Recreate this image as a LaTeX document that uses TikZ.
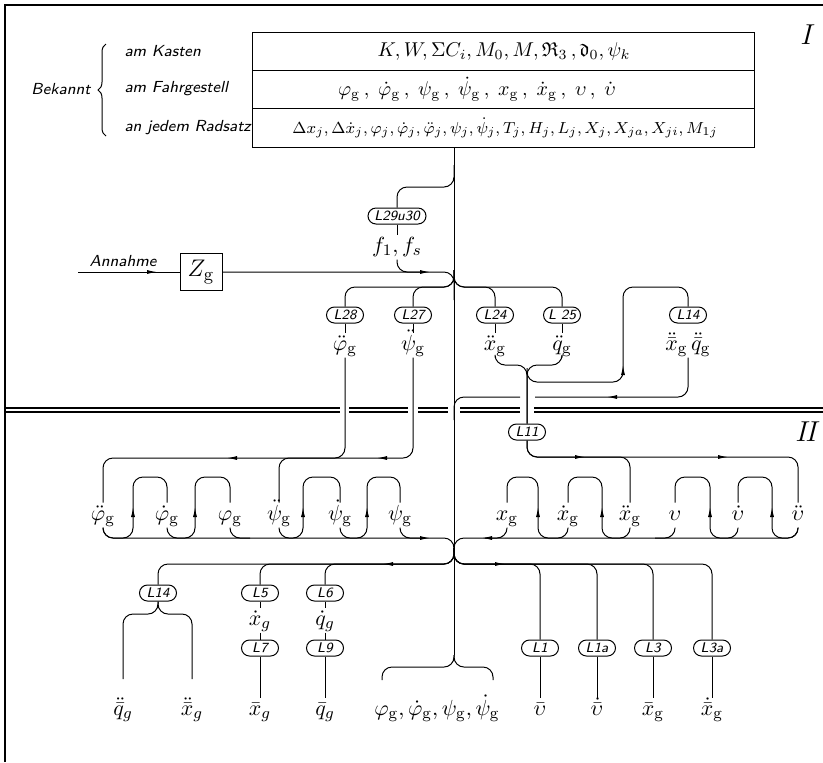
\documentclass[tikz,border=0pt]{standalone}
\usepackage{amsmath,amssymb}
\usetikzlibrary{arrows.meta,decorations.pathreplacing}
\newcommand{\gsub}{\mathrm{g}}

\begin{document}
\begin{tikzpicture}[x=0.5pt, y=-0.5pt, line width=0.5pt,
    lbox/.style={draw, rounded corners=4pt, minimum width=18.5pt, minimum height=8pt, inner sep=1pt,
                 font=\sffamily\itshape\fontsize{7}{8}\selectfont},
    var/.style={inner sep=1pt, text height=7.5pt, text depth=2.5pt, font=\fontsize{11}{13}\selectfont},
    zeile/.style={inner sep=0pt, font=\fontsize{10}{12}\selectfont},
    txt/.style={inner sep=0pt, font=\sffamily\itshape\fontsize{8}{10}\selectfont},
    bus/.style={rounded corners=5pt},
    pfeil/.style={-{Latex[length=5pt,width=2pt]}}]

  \useasboundingbox (0,0) rectangle (823,762);

  % Rahmen und Trennlinie
  \draw[line width=0.8pt] (5,762) -- (5,5) -- (823,5);
  \foreach \a/\b in {5/340, 349/408, 418/448, 460/520, 534/823} {
    \draw[line width=0.6pt] (\a,408) -- (\b,408);
    \draw[line width=0.6pt] (\a,412) -- (\b,412);
  }
  \node[font=\fontsize{14}{16}\selectfont] (roemI) at (808,35) {$I$};
  \node[font=\fontsize{14}{16}\selectfont] (roemII) at (808,432) {$I\!I$};

  % Bekannt
  \node[txt] (bekannt) at (61,89) {Bekannt};
  \draw[decorate, decoration={brace, amplitude=4pt}] (106,136) -- (106,44);
  \node[txt, anchor=west] (kastenT) at (124,51) {am Kasten};
  \node[txt, anchor=west] (fahrT) at (124,89) {am Fahrgestell};
  \node[txt, anchor=west] (radT) at (124,128) {an jedem Radsatz};

  \draw (252,32) rectangle (754,147);
  \draw (252,70) -- (754,70) (252,108) -- (754,108);
  \node[zeile] (kasten) at (504,51) {$K, W, \Sigma C_i, M_0, M, \mathfrak{R}_3\,, \mathfrak{d}_0, \psi_k$};
  \node[zeile] (fahr) at (477,89) {$\varphi_{\gsub}\,,\;\dot\varphi_{\gsub}\,,\;\psi_{\gsub}\,,\;\dot\psi_{\gsub}\,,\;x_{\gsub}\,,\;\dot x_{\gsub}\,,\;\upsilon\,,\;\dot\upsilon$};
  \node[zeile, font=\fontsize{8.5}{10}\selectfont] (rad) at (505,128) {$\Delta x_j, \Delta\dot x_j, \varphi_j, \dot\varphi_j, \ddot\varphi_j, \psi_j, \dot\psi_j, T_j, H_j, L_j, X_j, X_{ja}, X_{ji}, M_{1j}$};

  % Hauptleitung
  \coordinate (c0) at (454,147);
  \draw (c0) -- (454,655);

  % Annahme und L29u30
  \node[lbox, minimum width=29pt] (l29) at (397,216) {L29u30};
  \node[var] (f1) at (397,247) {$f_1, f_s$};
  \draw[bus] (454,165) |- (397,187) -- (l29.north);
  \draw (l29.south) -- (f1.north);
  \draw[bus] (f1.south) |- (425,272);
  \node[draw, minimum width=21pt, minimum height=18.5pt, inner sep=0pt, font=\fontsize{13}{15}\selectfont] (zg) at (201,272) {$Z_{\gsub}$};
  \coordinate (ann) at (78,272);
  \node[txt] (annahme) at (123,261) {Annahme};
  \draw (ann) -- (zg.west);
  \draw[pfeil] (150,272) -- (157,272);
  \draw[bus] (zg.east) -| (454,300);
  \draw[pfeil] (423,272) -- (430,272);

  % Bereich I
  \node[lbox] (l28) at (345,315) {L28};
  \node[lbox] (l27) at (413,315) {L27};
  \node[lbox] (l24) at (495,315) {L24};
  \node[lbox] (l25) at (562,315) {L 25};
  \node[lbox] (l14o) at (688,315) {L14};
  \node[var] (phigdd) at (345,345) {$\ddot\varphi_{\gsub}$};
  \node[var] (psigdd) at (413,345) {$\ddot\psi_{\gsub}$};
  \node[var] (xgdd) at (495,345) {$\ddot x_{\gsub}$};
  \node[var] (qgdd) at (562,345) {$\ddot q_{\gsub}$};
  \node[var] (l14oT) at (688,345) {$\ddot{\bar x}_{\gsub}\,\ddot{\bar q}_{\gsub}$};
  \node[lbox] (l11) at (527,432) {L11};

  \foreach \n/\x in {l28/345, l27/413, l24/495, l25/562}
    \draw[bus] (454,270) |- (\x,287) -- (\n.north);
  \draw (l28.south) -- (phigdd.north);
  \draw (l27.south) -- (psigdd.north);
  \draw (l24.south) -- (xgdd.north);
  \draw (l25.south) -- (qgdd.north);

  \draw[bus] (xgdd.south) |- (527,365) -- (l11.north);
  \draw[bus] (qgdd.south) |- (527,365) -- (l11.north);
  \draw[bus] (527,368) |- (623,382) -- (623,287) -- (688,287) -- (l14o.north);
  \draw[pfeil] (623,372) -- (623,365);
  \draw[bus] (l14oT.south) |- (535,397);
  \draw[bus] (520,397) -| (454,420);
  \draw[pfeil] (614,397) -- (607,397);

  % Bereich II, Integrationsketten
  \node[var] (lphidd) at (103,515) {$\ddot\varphi_{\gsub}$};
  \node[var] (lphid) at (167,515) {$\dot\varphi_{\gsub}$};
  \node[var] (lphi) at (230,515) {$\varphi_{\gsub}$};
  \node[var] (lpsidd) at (279,515) {$\ddot\psi_{\gsub}$};
  \node[var] (lpsid) at (340,515) {$\dot\psi_{\gsub}$};
  \node[var] (lpsi) at (400,515) {$\psi_{\gsub}$};
  \node[var] (lx) at (507,515) {$x_{\gsub}$};
  \node[var] (lxd) at (568,515) {$\dot x_{\gsub}$};
  \node[var] (lxdd) at (630,515) {$\ddot x_{\gsub}$};
  \node[var] (lv) at (675,515) {$\upsilon$};
  \node[var] (lvd) at (738,515) {$\dot\upsilon$};
  \node[var] (lvdd) at (798,515) {$\ddot\upsilon$};

  \draw[bus] (phigdd.south) |- (103,458) -- (lphidd.north);
  \draw[bus] (psigdd.south) |- (279,458) -- (lpsidd.north);
  \draw[pfeil] (234,458) -- (227,458);
  \draw[pfeil] (384,458) -- (377,458);
  \draw[bus] (l11.south) |- (630,457) -- (lxdd.north);
  \draw[bus] (l11.south) |- (798,457) -- (lvdd.north);
  \draw[pfeil] (578,457) -- (585,457);
  \draw[pfeil] (721,457) -- (728,457);

  \foreach \a/\u/\b in {lphidd/133/lphid, lphid/195/lphi, lpsidd/303/lpsid, lpsid/367/lpsi,
                        lxd/538/lx, lxdd/602/lxd, lvd/710/lv, lvdd/772/lvd} {
    \draw[bus] (\a.south) |- (\u,538) -- (\u,477) -| (\b.north);
    \draw[pfeil] (\u,514) -- (\u,507);
  }
  \draw[bus] (lphidd.south) |- (454,538) -- (454,552);
  \draw[bus] (lphi.south) |- (250,538);
  \draw[bus] (lpsi.south) |- (425,538);
  \draw[pfeil] (423,538) -- (430,538);
  \draw[bus] (lvdd.south) |- (454,538) -- (454,552);
  \draw[bus] (lx.south) |- (485,538);
  \draw[bus] (lv.south) |- (655,538);
  \draw[pfeil] (489,538) -- (482,538);

  % Ausgaenge
  \node[lbox] (l14u) at (158,593) {L14};
  \node[lbox] (l5) at (260,593) {L5};
  \node[lbox] (l6) at (325,593) {L6};
  \node[var] (xgd) at (260,620) {$\dot x_g$};
  \node[var] (qgd) at (325,620) {$\dot q_g$};
  \node[lbox] (l7) at (260,648) {L7};
  \node[lbox] (l9) at (325,648) {L9};
  \node[lbox] (l1) at (540,648) {L1};
  \node[lbox] (l1a) at (597,648) {L1a};
  \node[lbox] (l3) at (653,648) {L3};
  \node[lbox] (l3a) at (712,648) {L3a};

  \node[var] (qddb) at (123,710) {$\ddot{\bar q}_g$};
  \node[var] (xddb) at (192,710) {$\ddot{\bar x}_g$};
  \node[var] (xbar) at (260,710) {$\bar x_g$};
  \node[var] (qbar) at (325,710) {$\bar q_g$};
  \node[var] (brT) at (437,710) {$\varphi_{\gsub}, \dot\varphi_{\gsub}, \psi_{\gsub}, \dot\psi_{\gsub}$};
  \node[var] (vbar) at (540,710) {$\bar\upsilon$};
  \node[var] (vbard) at (597,710) {$\dot{\bar\upsilon}$};
  \node[var] (xbar3) at (653,710) {$\bar x_{\gsub}$};
  \node[var] (xbard3) at (712,710) {$\dot{\bar x}_{\gsub}$};

  \foreach \n/\x in {l14u/158, l5/260, l6/325}
    \draw[bus] (454,548) |- (\x,564) -- (\n.north);
  \foreach \n/\x in {l1/540, l1a/597, l3/653, l3a/712}
    \draw[bus] (454,548) |- (\x,564) -- (\n.north);
  \draw[pfeil] (390,564) -- (383,564);
  \draw[pfeil] (498,564) -- (505,564);

  \draw[bus] (l14u.south) |- (123,614) -- (123,679);
  \draw[bus] (l14u.south) |- (192,614) -- (192,679);
  \draw (l5.south) -- (xgd.north) (xgd.south) -- (l7.north) (l7.south) -- (xbar.north);
  \draw (l6.south) -- (qgd.north) (qgd.south) -- (l9.north) (l9.south) -- (qbar.north);
  \foreach \n/\t in {l1/vbar, l1a/vbard, l3/xbar3, l3a/xbard3}
    \draw (\n.south) -- (\t.north);

  % Klammer unten
  \draw[bus] (382,680) |- (454,667) -- (454,655);
  \draw[bus] (493,680) |- (454,667) -- (454,655);
\end{tikzpicture}
\end{document}
